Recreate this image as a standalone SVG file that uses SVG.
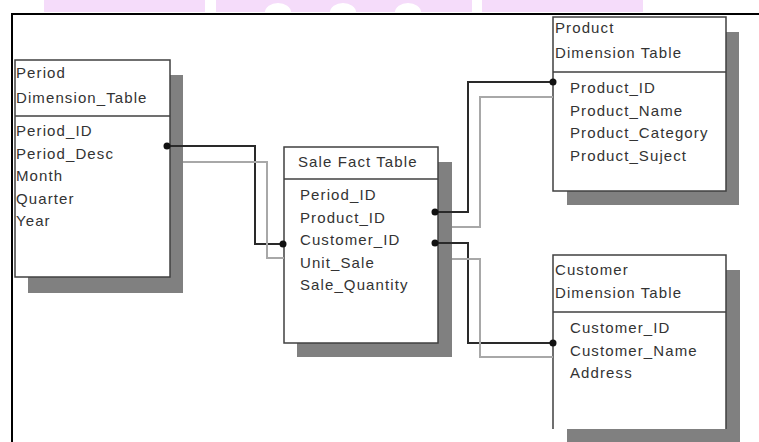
<svg xmlns="http://www.w3.org/2000/svg" width="759" height="442" viewBox="0 0 759 442">
<style>
.box{fill:#fff;stroke:#404040;stroke-width:1.5}
.shadow{fill:#808080}
.div{stroke:#404040;stroke-width:1.5}
text{font-family:"Liberation Sans",Arial,sans-serif;font-size:15px;fill:#333;letter-spacing:1.1px}
.fk{fill:none;stroke:#2a2a2a;stroke-width:2}
.gl{fill:none;stroke:#a8a8a8;stroke-width:2}
.dot{fill:#111}
</style>
<rect width="759" height="442" fill="#fff"/>
<g id="banner">
<rect x="44" y="0" width="161" height="12" fill="#f5dcfa"/>
<rect x="216" y="0" width="256" height="12" fill="#f5dcfa"/>
<rect x="482" y="0" width="161" height="12" fill="#f5dcfa"/>
<path d="M265,12 A13,9 0 0 1 291,12 Z" fill="#fff"/>
<path d="M330,12 A13,9 0 0 1 356,12 Z" fill="#fff"/>
<path d="M395,12 A13,9 0 0 1 421,12 Z" fill="#fff"/>
</g>
<g id="frame" fill="none" stroke="#000" stroke-width="2">
<path d="M12,442 V14 H759"/>
</g>
<g id="period">
<rect class="shadow" x="28" y="75" width="155" height="218"/>
<rect class="box" x="15" y="60" width="155" height="217"/>
<line class="div" x1="15" y1="116" x2="170" y2="116"/>
<text x="16" y="78">Period</text>
<text x="16" y="103">Dimension_Table</text>
<text x="16" y="136">Period_ID</text>
<text x="16" y="158.5">Period_Desc</text>
<text x="16" y="181">Month</text>
<text x="16" y="203.5">Quarter</text>
<text x="16" y="226">Year</text>
</g>
<g id="sale">
<rect class="shadow" x="297" y="162" width="155" height="195"/>
<rect class="box" x="284" y="147" width="154" height="196"/>
<line class="div" x1="284" y1="179" x2="438" y2="179"/>
<text x="298" y="167">Sale Fact Table</text>
<text x="300" y="200">Period_ID</text>
<text x="300" y="222.5">Product_ID</text>
<text x="300" y="245">Customer_ID</text>
<text x="300" y="267.5">Unit_Sale</text>
<text x="300" y="290">Sale_Quantity</text>
</g>
<g id="product">
<rect class="shadow" x="567" y="32" width="172" height="173"/>
<rect class="box" x="553" y="17" width="173" height="174"/>
<line class="div" x1="553" y1="72" x2="726" y2="72"/>
<text x="555" y="33">Product</text>
<text x="555" y="58">Dimension Table</text>
<text x="570" y="93">Product_ID</text>
<text x="570" y="115.5">Product_Name</text>
<text x="570" y="138">Product_Category</text>
<text x="570" y="160.5">Product_Suject</text>
</g>
<g id="customer">
<rect class="shadow" x="567" y="270" width="173" height="172"/>
<rect x="553" y="255" width="173" height="174" fill="#fff"/>
<path d="M553,429 V255 H726 V429" fill="none" stroke="#404040" stroke-width="1.5"/>
<line class="div" x1="553" y1="312" x2="726" y2="312"/>
<text x="555" y="275">Customer</text>
<text x="555" y="298">Dimension Table</text>
<text x="570" y="333">Customer_ID</text>
<text x="570" y="355.5">Customer_Name</text>
<text x="570" y="378">Address</text>
</g>
<g id="connectors">
<path class="fk" d="M167,146 H255 V244 H283"/>
<path class="gl" d="M183,162 H267 V258 H284"/>
<circle class="dot" cx="167" cy="146" r="3.5"/>
<circle class="dot" cx="283" cy="244" r="3.5"/>
<path class="fk" d="M435,212 H468 V82 H553"/>
<path class="gl" d="M452,227 H480 V97 H553"/>
<circle class="dot" cx="435" cy="212" r="3.5"/>
<circle class="dot" cx="553" cy="82" r="3.5"/>
<path class="fk" d="M435,243 H468 V343 H553"/>
<path class="gl" d="M452,259 H480 V357 H553"/>
<circle class="dot" cx="435" cy="243" r="3.5"/>
<circle class="dot" cx="553" cy="343" r="3.5"/>
</g>
</svg>
